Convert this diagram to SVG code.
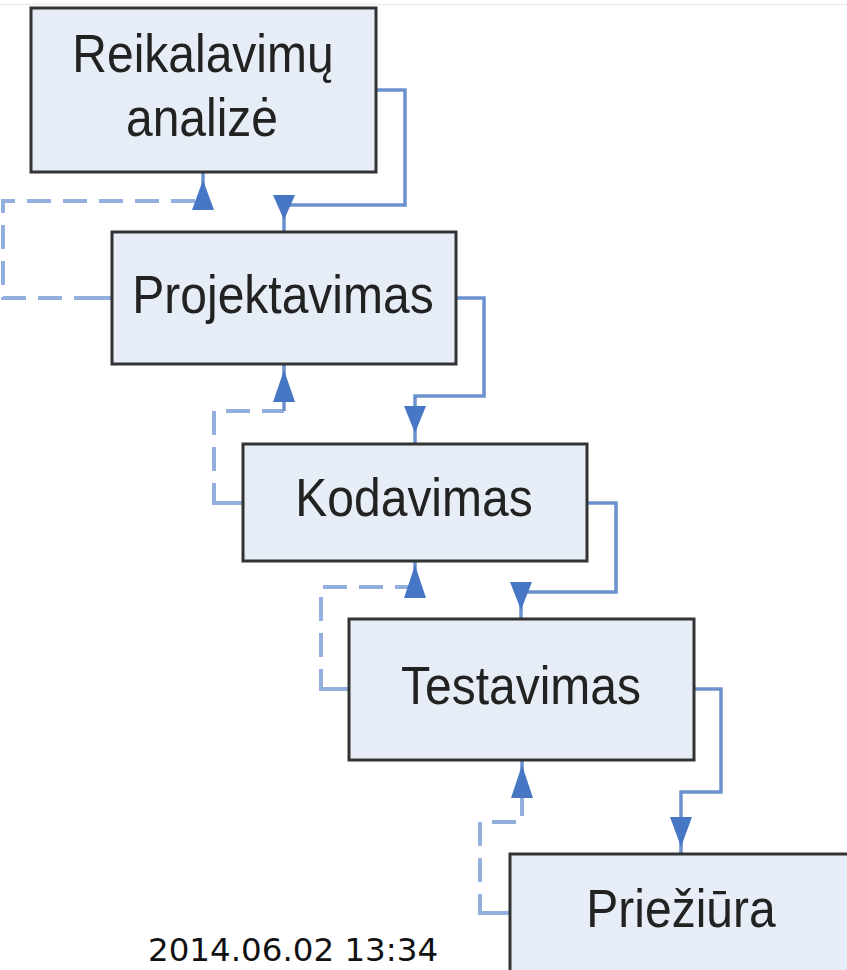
<svg xmlns="http://www.w3.org/2000/svg" width="847" height="970" viewBox="0 0 847 970">
<style>
.box{fill:#e7edf7;stroke:#333;stroke-width:3}
.lbl{font-family:"Liberation Sans",Arial,sans-serif;font-size:48px;fill:#222;text-anchor:middle}
.solid{fill:none;stroke:#6b91cf;stroke-width:3.5}
.dash{fill:none;stroke:#93b0dd;stroke-width:4;stroke-dasharray:24 12}
.stub{fill:none;stroke:#93b0dd;stroke-width:4}
.ah{fill:#4676c4}
.ts{font-family:"DejaVu Sans",sans-serif;font-size:32.5px;fill:#111}
</style>
<rect width="847" height="970" fill="#fff"/>
<line x1="0" y1="4.5" x2="847" y2="4.5" stroke="#ececec" stroke-width="1.5"/>
<g id="connectors">
  <path class="solid" d="M376 90 H405 V205 H284 V232"/>
  <polygon class="ah" points="273,195 295,195 284,220"/>
  <path class="solid" d="M456 298 H484 V396 H415 V445"/>
  <polygon class="ah" points="404,406 426,406 415,433"/>
  <path class="solid" d="M587 503 H616 V592 H521 V619"/>
  <polygon class="ah" points="510,582 532,582 521,610"/>
  <path class="solid" d="M695 689 H721 V792 H681 V854"/>
  <polygon class="ah" points="670,817 692,817 681,847"/>
  <path class="stub" d="M111 298 H98"/>
  <path class="dash" d="M98 298 H3 V201 H203"/>
  <path class="solid" d="M203 172 V201"/>
  <polygon class="ah" points="192,210 214,210 203,180"/>
  <path class="stub" d="M243 503 H218"/>
  <path class="dash" d="M218 503 H214 V411 H284"/>
  <path class="solid" d="M284 364 V411"/>
  <polygon class="ah" points="273,402 295,402 284,370"/>
  <path class="stub" d="M348 689 H325"/>
  <path class="dash" d="M325 689 H321 V587 H415"/>
  <path class="solid" d="M415 561 V587"/>
  <polygon class="ah" points="404,598 426,598 415,565"/>
  <path class="stub" d="M509 913 H485"/>
  <path class="dash" d="M485 913 H480 V822 H522 V798"/>
  <path class="solid" d="M522 760 V798"/>
  <polygon class="ah" points="511,798 533,798 522,765"/>
</g>
<g id="n1">
  <rect class="box" x="31" y="8" width="345" height="164"/>
  <text class="lbl" transform="translate(203,72) scale(1,1.1)">Reikalavimų</text>
  <text class="lbl" transform="translate(202,136) scale(1,1.1)">analizė</text>
</g>
<g id="n2">
  <rect class="box" x="112" y="232" width="344" height="132"/>
  <text class="lbl" transform="translate(283,313) scale(1,1.1)">Projektavimas</text>
</g>
<g id="n3">
  <rect class="box" x="243" y="444" width="344" height="117"/>
  <text class="lbl" transform="translate(414,516) scale(1,1.1)">Kodavimas</text>
</g>
<g id="n4">
  <rect class="box" x="349" y="619" width="345" height="141"/>
  <text class="lbl" transform="translate(521,704) scale(1,1.1)">Testavimas</text>
</g>
<g id="n5">
  <rect class="box" x="510" y="854" width="345" height="130"/>
  <text class="lbl" transform="translate(681,927) scale(1,1.1)">Priežiūra</text>
</g>
<text class="ts" x="148" y="961">2014.06.02 13:34</text>
</svg>
